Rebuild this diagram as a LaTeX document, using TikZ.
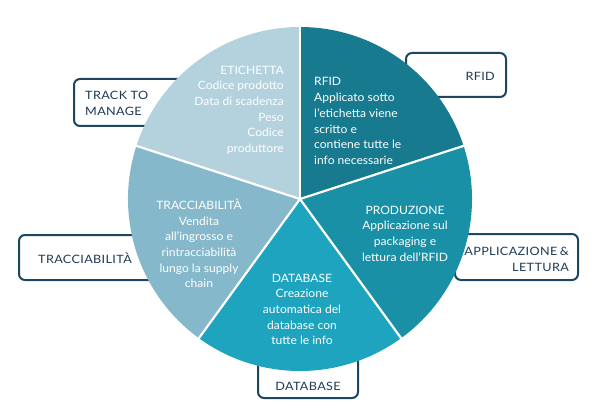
\documentclass[tikz,border=0pt]{standalone}
\usepackage{fontspec}
\setmainfont{Lato}
\newfontfamily\slicefont[Ligatures=TeX, FakeStretch=1.05]{Lato}
\newfontfamily\capfont[Ligatures=TeX, FakeStretch=1.1, LetterSpace=3]{Lato}
\definecolor{ceti}{HTML}{B4D2DE}
\definecolor{crfid}{HTML}{177A8E}
\definecolor{cprod}{HTML}{1A90A7}
\definecolor{cdb}{HTML}{1EA4BF}
\definecolor{ctrac}{HTML}{86B8CB}
\definecolor{boxc}{HTML}{1C4763}
\definecolor{txtc}{HTML}{1D3A55}
\tikzset{
  slicetxt/.style={text=white, font=\slicefont\fontsize{11.5}{15.7}\selectfont, inner sep=0pt},
  lbox/.style={draw=boxc, line width=2pt, rounded corners=6pt, fill=white, inner sep=0pt},
  ltxt/.style={text=txtc, font=\capfont\fontsize{11.5}{16.5}\selectfont, inner sep=0pt},
  sep/.style={white, line width=2.2pt},
}
\begin{document}
\begin{tikzpicture}[x=1pt,y=1pt]
\useasboundingbox (0,0) rectangle (602,405);
% label boxes (behind pie)
\node[lbox, minimum width=116pt, minimum height=47pt] (b1) at (132,302.5) {};
\node[lbox, minimum width=100pt, minimum height=44pt] (b2) at (456,330) {};
\node[lbox, minimum width=123pt, minimum height=46pt] (b3) at (516.5,148) {};
\node[lbox, minimum width=100pt, minimum height=68pt] (b4) at (308,41) {};
\node[lbox, minimum width=151pt, minimum height=45pt] (b5) at (94.5,147.5) {};
\node[ltxt, anchor=north west, align=left] (t1) at (85,314.5) {TRACK TO\\MANAGE};
\node[ltxt, anchor=east] (t2) at (495,329) {RFID};
\node[ltxt, anchor=north east, align=right] (t3) at (569,158.5) {APPLICAZIONE\kern2.5pt\&\\LETTURA};
\node[ltxt] (t4) at (308,19) {DATABASE};
\node[ltxt, anchor=west] (t5) at (38,147) {TRACCIABILITÀ};
% pie
\coordinate (C) at (300,206);
\fill[ceti]  (C) -- ++(90:172)  arc[start angle=90,  end angle=162, radius=172] -- cycle;
\fill[crfid] (C) -- ++(18:172)  arc[start angle=18,  end angle=90,  radius=172] -- cycle;
\fill[cprod] (C) -- ++(-54:172) arc[start angle=-54, end angle=18,  radius=172] -- cycle;
\fill[cdb]   (C) -- ++(-126:172) arc[start angle=-126, end angle=-54, radius=172] -- cycle;
\fill[ctrac] (C) -- ++(162:172) arc[start angle=162, end angle=234, radius=172] -- cycle;
\foreach \a in {90,18,-54,-126,162} \draw[sep] (C) -- ++(\a:172.5);
% slice texts
\node[slicetxt, anchor=north east, align=right] (s1) at (284,339.5)
  {ETICHETTA\\Codice prodotto\\Data di scadenza\\Peso\\Codice\\produttore};
\node[slicetxt, anchor=north west, align=left] (s2) at (314,327.5)
  {RFID\\Applicato sotto\\l'etichetta viene\\scritto e\\contiene tutte le\\info necessarie};
\node[slicetxt, anchor=north, align=center] (s3) at (405,199.5)
  {PRODUZIONE\\Applicazione sul\\packaging e\\lettura dell'RFID};
\node[slicetxt, anchor=north, align=center] (s4) at (302,131.5)
  {DATABASE\\Creazione\\automatica del\\database con\\tutte le info};
\node[slicetxt, anchor=north, align=center] (s5) at (199,206.5)
  {TRACCIABILITÀ\\Vendita\\all'ingrosso e\\rintracciabilità\\lungo la supply\\chain};
\end{tikzpicture}
\end{document}
